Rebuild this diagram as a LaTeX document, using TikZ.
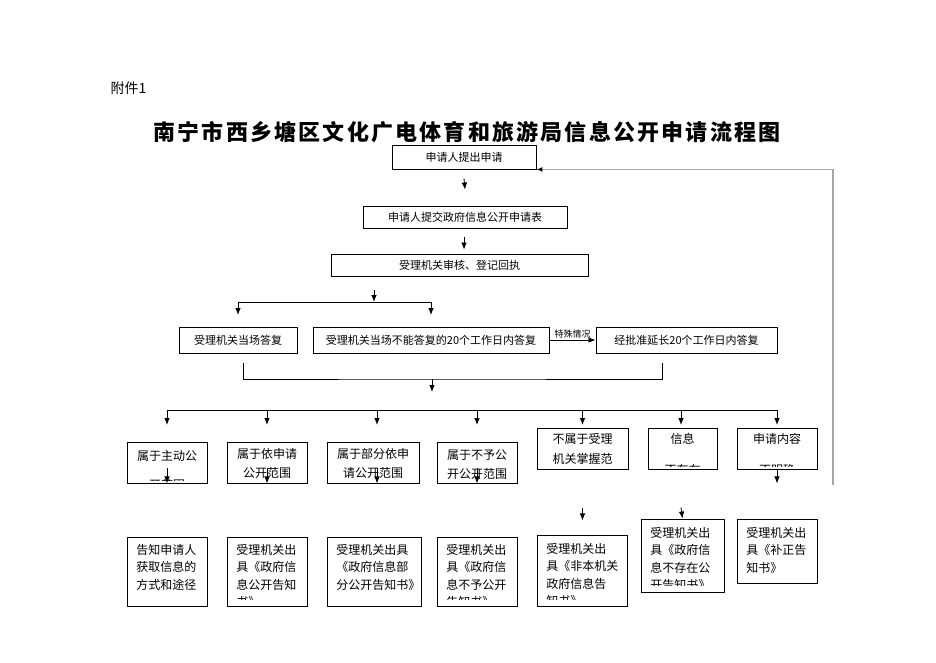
\documentclass[tikz,border=0pt]{standalone}
\usepackage{fontspec}
\setmainfont{Noto Sans CJK SC}
\usetikzlibrary{arrows.meta,calc}
\tikzset{>={Latex[length=7pt,width=5.5pt]}}
\tikzset{
	box/.style={draw, line width=0.9pt, inner sep=0pt},
	toptext/.style={font=\fontsize{11}{13}\selectfont},
	btext/.style={anchor=north, align=center, inner sep=0pt, minimum width=0pt, minimum height=0pt, font=\fontsize{12}{19}\selectfont},
	ctext/.style={anchor=north west, align=left, inner sep=0pt, minimum width=0pt, minimum height=0pt, font=\fontsize{12}{17.5}\selectfont},
	% box with centred text, cut at the bottom (inset, top offset, text)
	tbox/.style n args={3}{box, path picture={
				\clip ($(path picture bounding box.south west)+(0,-#1)$) rectangle (path picture bounding box.north east);
				\node[btext] at ($(path picture bounding box.north)+(0,#2)$) {#3};}},
	% box with left text, cut at the bottom
	lbox/.style n args={3}{box, path picture={
				\clip ($(path picture bounding box.south west)+(0,-#1)$) rectangle (path picture bounding box.north east);
				\node[ctext] at ($(path picture bounding box.north west)+(9,#2)$) {#3};}},
	fb/.style={draw=gray!70, line width=1.6pt},
}

\begin{document}
\begin{tikzpicture}[x=1pt, y=-1pt, line width=0.8pt]
	\useasboundingbox (0,0) rectangle (936,662);
	\node[anchor=west, font=\fontsize{14}{14}\selectfont] (att) at (107,88) {附件1};
	\node[font=\fontsize{22}{22}\selectfont\bfseries\addfontfeature{LetterSpace=10}] (title) at (467,132) {南宁市西乡塘区文化广电体育和旅游局信息公开申请流程图};

	% first steps
	\node[box, toptext, minimum width=144, minimum height=24] (q1) at (464,157) {申请人提出申请};
	\node[box, toptext, minimum width=204, minimum height=22] (q2) at (465,217) {申请人提交政府信息公开申请表};
	\node[box, toptext, minimum width=257, minimum height=22] (q3) at (459.5,265) {受理机关审核、登记回执};
	\draw[->] ($(q1.south)+(0,9)$) -- ($(q2.north)+(0,-16)$);
	\draw[->] ($(q2.south)+(-1,9)$) -- ($(q3.north)+(4.5,-4)$);

	% answer
	\node[box, toptext, minimum width=118, minimum height=26] (r1) at (238,340) {受理机关当场答复};
	\node[box, toptext, minimum width=236, minimum height=26] (r2) at (431,340) {受理机关当场不能答复的20个工作日内答复};
	\node[box, toptext, minimum width=181, minimum height=26] (r3) at (686.5,340) {经批准延长20个工作日内答复};
	\coordinate (j1) at (374,302);
	\draw[->] ($(j1)+(0,-12)$) -- (j1);
	\draw (r1.north |- j1) -- (r2.north |- j1);
	\draw[->] (r1.north |- j1) -- ++(0,13);
	\draw[->] (r2.north |- j1) -- ++(0,13);
	\draw[->] (r2.east) -- (r3.west) node[midway, above, inner sep=1.5pt, font=\fontsize{9}{9}\selectfont] {特殊情况};

	\coordinate (j2) at (432,379);
	\draw ($(r1.south)+(5,10)$) |- (j2) -| ($(r3.south)+(-24.5,10)$);
	\draw[->] (j2) -- ++(0,13);

	% kinds of request
	\node[tbox={3}{7.6}{属于主动公\\[10pt]开范围}, minimum width=80, minimum height=41] (b1) at (167,462.5) {};
	\node[tbox={3}{5.6}{属于依申请\\公开范围}, minimum width=80, minimum height=41] (b2) at (267,462.5) {};
	\node[tbox={3}{5.6}{属于部分依申\\请公开范围}, minimum width=92, minimum height=41] (b3) at (373,462.5) {};
	\node[tbox={3}{7.6}{属于不予公\\开公开范围}, minimum width=80, minimum height=41] (b4) at (477,462.5) {};
	\node[tbox={3}{4.6}{不属于受理\\[1pt]机关掌握范\\围}, minimum width=91, minimum height=41] (b5) at (582.5,448.5) {};
	\node[tbox={3}{4.6}{信息\\[12pt]不存在}, minimum width=69, minimum height=41] (b6) at (682.5,448.5) {};
	\node[tbox={3}{4.6}{申请内容\\[12pt]不明确}, minimum width=80, minimum height=41] (b7) at (777,448.5) {};
	\coordinate (j3) at (432,410);
	\draw (b1.north |- j3) -- (b7.north |- j3);
	\foreach \b in {b1,b2,b4,b5,b7}
		\draw[->] (\b.north |- j3) -- ++(0,15);
	\draw[->] ($(b3.north |- j3)+(4,0)$) -- ++(0,15);
	\draw[->] ($(b6.north |- j3)+(-1.5,0)$) -- ++(0,15);

	% replies
	\node[lbox={5}{6.6}{告知申请人\\获取信息的\\方式和途径}, minimum width=80, minimum height=69] (c1) at (167,571.5) {};
	\node[lbox={7}{6.6}{受理机关出\\具《政府信\\息公开告知\\书》}, minimum width=80, minimum height=69] (c2) at (267,571.5) {};
	\node[lbox={7}{6.6}{受理机关出具\\《政府信息部\\分公开告知书》}, minimum width=94, minimum height=69] (c3) at (374,571.5) {};
	\node[lbox={7}{6.6}{受理机关出\\具《政府信\\息不予公开\\告知书》}, minimum width=80, minimum height=69] (c4) at (477,571.5) {};
	\node[lbox={7}{7.6}{受理机关出\\具《非本机关\\政府信息告\\知书》}, minimum width=90, minimum height=71] (c5) at (582,570.5) {};
	\node[lbox={6.5}{7.6}{受理机关出\\具《政府信\\息不存在公\\开告知书》}, minimum width=83, minimum height=73] (c6) at (682.5,555.5) {};
	\node[lbox={5}{7.6}{受理机关出\\具《补正告\\知书》}, minimum width=80, minimum height=64] (c7) at (777,551) {};
	\foreach \b in {b1,b2,b4}
		\draw[->] ($(\b.south)+(0,-15)$) -- (\b.south);
	\draw[->] ($(b3.south)+(4,-15)$) -- ++(0,15);
	\draw[->] ($(b7.south)+(0,1)$) -- ++(0,13);
	\draw[->] ($(b5.south)+(0,39)$) -- ++(0,12);
	\draw[->] ($(b6.south)+(-1.5,38)$) -- (b6.south |- c6.north);

	% back to the start
	\coordinate (back) at (833,485);
	\draw[fb, -{Latex[length=6pt,width=5pt,black]}] (back) |- (q1.south east);
\end{tikzpicture}
\end{document}
